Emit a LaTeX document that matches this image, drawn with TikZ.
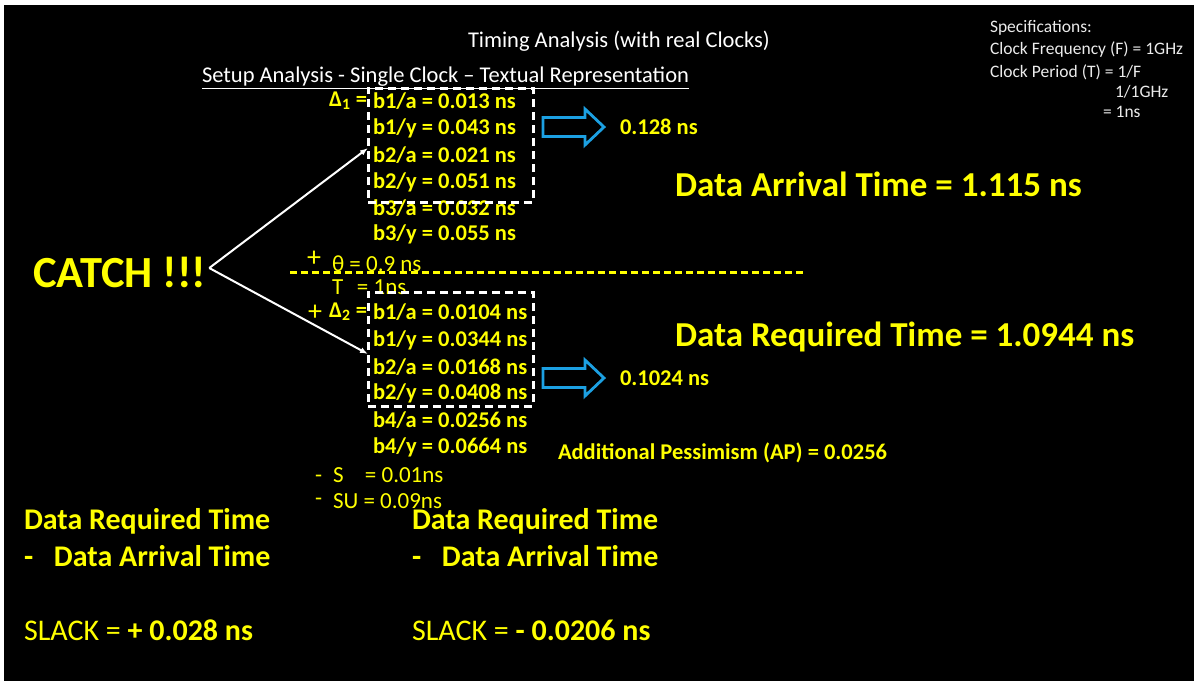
\documentclass[tikz,border=0pt]{standalone}
\usepackage{fontspec}
\setmainfont{Carlito}
\usetikzlibrary{arrows.meta,calc}
\definecolor{hiyellow}{RGB}{255,255,0}
\definecolor{flowblue}{RGB}{28,160,226}
\definecolor{softwhite}{RGB}{235,235,235}
\newcommand{\fsz}[1]{\fontsize{#1}{#1}\selectfont}

\begin{document}
\begin{tikzpicture}[x=1pt,y=-1pt,
  every node/.style={inner sep=0pt,outer sep=0pt},
  heading/.style={anchor=west,text=white,font=\fsz{22.5}},
  spec/.style={anchor=west,text=softwhite,font=\fsz{17.5}},
  delay/.style={anchor=west,text=hiyellow,font=\bfseries\fsz{22.5}},
  plain/.style={anchor=west,text=hiyellow,font=\fsz{23}},
  result/.style={anchor=west,text=hiyellow,font=\bfseries\fsz{35}},
  summary/.style={anchor=west,text=hiyellow,font=\bfseries\fsz{30}},
  groupbox/.style={draw=white,line width=3pt,dash pattern=on 8pt off 5pt,
                   minimum width=165pt,minimum height=114pt},
  link/.style={draw=white,line width=2pt,-{Latex[length=8pt,width=6pt]}},
  pics/blockarrow/.style={code={
    \draw[flowblue,line width=2.8pt]
      (0,-9.5) -- (42,-9.5) -- (42,-18) -- (61,0) -- (42,18) -- (42,9.5) -- (0,9.5) -- cycle;}}
]
\useasboundingbox (0,0) rectangle (1194,681);
\fill[white] (0,0) rectangle (1194,681);
\fill[black] (4,5) rectangle (1194,681);

% headings
\node[heading] (title) at (468,41) {Timing Analysis (with real Clocks)};
\node[heading] (subtitle) at (202,78) {\underline{Setup Analysis - Single Clock – Textual Representation}};

% specifications
\node[spec] (spec1) at (990,28) {Specifications:};
\node[spec] (spec2) at (990,50) {Clock Frequency (F) = 1GHz};
\node[spec] (spec3) at (990,72) {Clock Period (T) = 1/F};
\node[spec] (spec4) at (1115,92) {1/1GHz};
\node[spec] (spec5) at (1103,112) {= 1ns};

% launch path delays
\node[delay,anchor=east] (d1) at (367,101) {Δ\textsubscript{1} =};
\node[delay] (a1) at (373,101) {b1/a = 0.013 ns};
\node[delay] (a2) at (373,128) {b1/y = 0.043 ns};
\node[delay] (a3) at (373,155) {b2/a = 0.021 ns};
\node[delay] (a4) at (373,182) {b2/y = 0.051 ns};
\node[delay] (a5) at (373,208) {b3/a = 0.032 ns};
\node[delay] (a6) at (373,234) {b3/y = 0.055 ns};
\node[groupbox] (box1) at (450.5,145) {};
\pic at (543,127) {blockarrow};
\node[delay] (v1) at (620,127) {0.128 ns};
\node[result] (arrival) at (675,184) {Data Arrival Time = 1.115 ns};

% clock edge
\node[plain,font=\fsz{28}] (plus1) at (307,259) {+};
\node[plain] (theta) at (332,264) {θ = 0.9 ns};
\draw[hiyellow,line width=3.5pt,dash pattern=on 7pt off 4pt] (290,272.5) -- (806,272.5);
\node[plain] (period) at (332,287) {\makebox[25pt][l]{T}= 1ns};

% capture path delays
\node[plain,font=\fsz{28}] (plus2) at (308,313) {+};
\node[delay,anchor=east] (d2) at (367,312) {Δ\textsubscript{2} =};
\node[delay] (c1) at (373,312) {b1/a = 0.0104 ns};
\node[delay] (c2) at (373,340) {b1/y = 0.0344 ns};
\node[delay] (c3) at (373,367) {b2/a = 0.0168 ns};
\node[delay] (c4) at (373,393) {b2/y = 0.0408 ns};
\node[delay] (c5) at (373,420) {b4/a = 0.0256 ns};
\node[delay] (c6) at (373,447) {b4/y = 0.0664 ns};
\node[groupbox] (box2) at (450.5,349) {};
\pic at (543,378) {blockarrow};
\node[delay] (v2) at (620,378) {0.1024 ns};
\node[result] (required) at (675,337) {Data Required Time = 1.0944 ns};
\node[delay] (ap) at (558,453) {Additional Pessimism (AP) = 0.0256};

\node[plain] (m1) at (315,479) {-};
\node[plain] (skew) at (333,475) {\makebox[32pt][l]{S}= 0.01ns};
\node[plain] (m2) at (315,502) {-};
\node[plain] (setup) at (333,501) {SU = 0.09ns};

% catch point and its branches
\node[anchor=west,text=hiyellow,font=\bfseries\fsz{44.5}] (catch) at (33,272) {CATCH !!!};
\coordinate (fork) at ([xshift=3pt,yshift=4pt]catch.east);
\draw[link] (fork) -- ([yshift=-3pt]box1.west);
\draw[link] (fork) -- ([yshift=-5pt]box2.west);

% slack summaries
\node[summary] (req1) at (24,521) {Data Required Time};
\node[summary] (arr1) at (24,556) {\makebox[30pt][l]{-}Data Arrival Time};
\node[summary] (slack1) at (24,630) {\mdseries SLACK = \bfseries + 0.028 ns};
\node[summary] (req2) at (412,521) {Data Required Time};
\node[summary] (arr2) at (412,556) {\makebox[30pt][l]{-}Data Arrival Time};
\node[summary] (slack2) at (412,630) {\mdseries SLACK = \bfseries - 0.0206 ns};
\end{tikzpicture}
\end{document}
